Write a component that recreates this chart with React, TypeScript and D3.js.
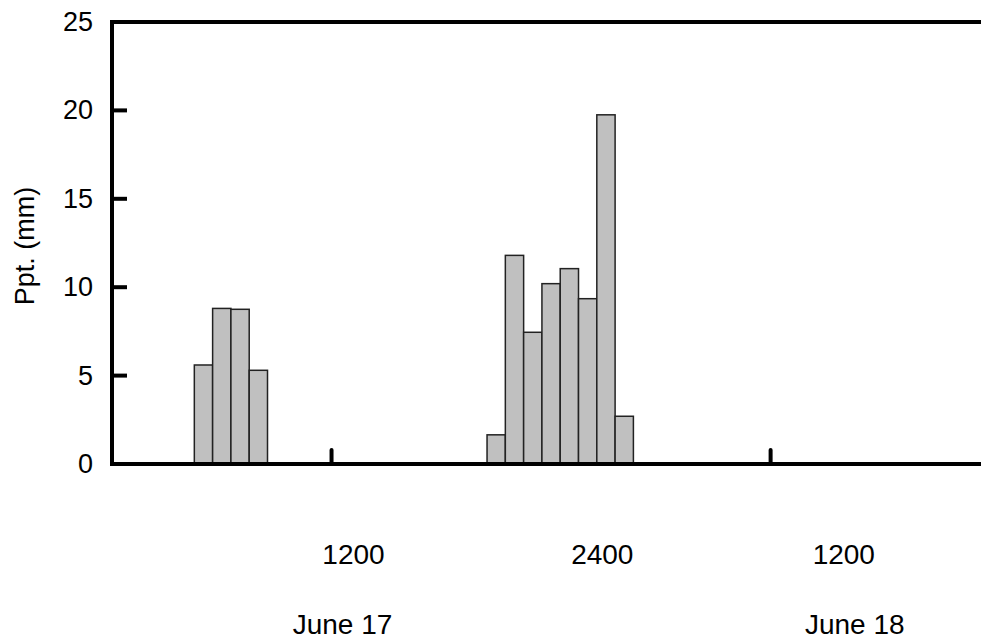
import React from 'react';
import * as d3 from 'd3';

// hourly precipitation, hour 0 = midnight at start of June 17
const hours = [5, 6, 7, 8, 21, 22, 23, 24, 25, 26, 27, 28];
const precip = [5.6, 8.8, 8.75, 5.3, 1.65, 11.8, 7.45, 10.2, 11.05, 9.35, 19.75, 2.7];

const yTicks = [0, 5, 10, 15, 20, 25];
const xTickHours = [12, 36];
const timeLabels = ['1200', '2400', '1200'];
const timeLabelHours = [13.2, 26.8, 40.0];
const dayLabels = ['June 17', 'June 18'];
const dayLabelHours = [12.6, 40.6];

export default function App() {
  const width = 981;
  const height = 641;
  const margin = { top: 22, right: 0, bottom: 177, left: 112 };
  const innerHeight = height - margin.top - margin.bottom;

  const x = d3.scaleLinear().domain([0, 47.5]).range([margin.left, width]);
  const y = d3.scaleLinear().domain([0, 25]).range([margin.top + innerHeight, margin.top]);

  const font = 'Arial, "Liberation Sans", sans-serif';
  const y0 = y(0);

  return (
    <svg width={width} height={height} style={{ position: 'fixed', left: 0, top: 0, background: '#fff' }}>
      {/* Bars */}
      {hours.map((h, i) => (
        <rect
          key={h}
          x={x(h - 0.5)}
          y={y(precip[i])}
          width={x(h + 0.5) - x(h - 0.5)}
          height={y0 - y(precip[i])}
          fill="#c0c0c0"
          stroke="#222"
          strokeWidth={1.5}
        />
      ))}

      {/* frame */}
      <line x1={margin.left - 2} x2={width} y1={y(25)} y2={y(25)} stroke="#000" strokeWidth={4} />
      <line x1={margin.left} x2={margin.left} y1={y(25) - 2} y2={y0 + 2} stroke="#000" strokeWidth={4} />
      <line x1={margin.left - 2} x2={width} y1={y0} y2={y0} stroke="#000" strokeWidth={4} />

      {/* Y ticks */}
      {yTicks.map(t => (
        <g key={t}>
          <line x1={margin.left} x2={margin.left + 15} y1={y(t)} y2={y(t)} stroke="#000" strokeWidth={4} />
          <text
            x={margin.left - 19}
            y={y(t)}
            textAnchor="end"
            dominantBaseline="central"
            fontFamily={font}
            fontSize={27}
            fill="#000"
          >
            {t}
          </text>
        </g>
      ))}

      {/* X ticks */}
      {xTickHours.map(h => (
        <line key={h} x1={x(h)} x2={x(h)} y1={y0} y2={y0 - 14} stroke="#000" strokeWidth={4} strokeLinecap="round" />
      ))}

      {timeLabels.map((l, i) => (
        <text key={i} x={x(timeLabelHours[i])} y={564} textAnchor="middle" fontFamily={font} fontSize={28} fill="#000">
          {l}
        </text>
      ))}
      {dayLabels.map((l, i) => (
        <text key={i} x={x(dayLabelHours[i])} y={634} textAnchor="middle" fontFamily={font} fontSize={28} fill="#000">
          {l}
        </text>
      ))}

      <text
        transform={`translate(34,${(y(0) + y(25)) / 2 + 3}) rotate(-90)`}
        textAnchor="middle"
        fontFamily={font}
        fontSize={27}
        fill="#000"
      >
        Ppt. (mm)
      </text>
    </svg>
  );
}
